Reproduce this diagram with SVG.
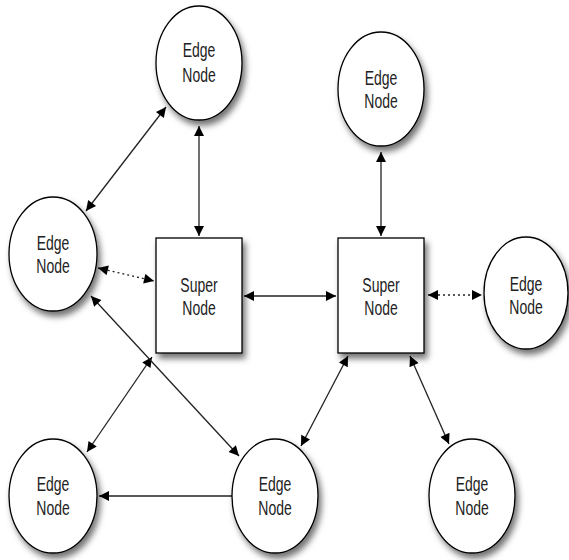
<svg xmlns="http://www.w3.org/2000/svg" width="569" height="560" viewBox="0 0 569 560">
<defs>
<filter id="sh" x="-30%" y="-30%" width="170%" height="170%">
<feDropShadow dx="3" dy="5" stdDeviation="3" flood-color="#000" flood-opacity="0.55"/>
</filter>
<marker id="arr" viewBox="0 0 10 10" refX="10" refY="5" markerWidth="12" markerHeight="10" markerUnits="userSpaceOnUse" orient="auto-start-reverse">
<path d="M0,0 L10,5 L0,10 z" fill="#000"/>
</marker>
</defs>
<style>
.node{fill:#fff;stroke:#000;stroke-width:1.3;filter:url(#sh)}
.lbl{font-family:"Liberation Sans",Arial,sans-serif;font-size:14px;fill:#222;text-anchor:middle}
.c{stroke:#222;stroke-width:1.3;fill:none}
.both{marker-start:url(#arr);marker-end:url(#arr)}
.one{marker-end:url(#arr)}
.dot{stroke-dasharray:2,3}
</style>
<g id="connectors">
<line class="c both" x1="199" y1="126" x2="199" y2="236"/>
<line class="c both" x1="166" y1="107" x2="86" y2="211"/>
<line class="c both dot" x1="98" y1="268" x2="154" y2="281"/>
<line class="c both" x1="152" y1="357" x2="87" y2="452"/>
<line class="c both" x1="91" y1="296" x2="239" y2="456"/>
<line class="c one" x1="232" y1="496" x2="99" y2="496"/>
<line class="c both" x1="244" y1="296" x2="336" y2="296"/>
<line class="c both" x1="381" y1="152" x2="381" y2="236"/>
<line class="c both dot" x1="428" y1="295" x2="482" y2="295"/>
<line class="c both" x1="348" y1="356" x2="301" y2="446"/>
<line class="c both" x1="410" y1="356" x2="449" y2="444"/>
</g>
<g id="edge-top-left">
<ellipse class="node" cx="199" cy="63" rx="43" ry="57"/>
<text class="lbl" transform="translate(199,57) scale(1,1.4)">Edge</text>
<text class="lbl" transform="translate(199,82) scale(1,1.4)">Node</text>
</g>
<g id="edge-top-right">
<ellipse class="node" cx="381" cy="89" rx="43" ry="57"/>
<text class="lbl" transform="translate(381,84.5) scale(1,1.4)">Edge</text>
<text class="lbl" transform="translate(381,108) scale(1,1.4)">Node</text>
</g>
<g id="edge-left">
<ellipse class="node" cx="53" cy="254" rx="44" ry="57"/>
<text class="lbl" transform="translate(53,249.5) scale(1,1.4)">Edge</text>
<text class="lbl" transform="translate(53,273) scale(1,1.4)">Node</text>
</g>
<g id="super-left">
<rect class="node" x="156" y="238" width="86" height="115"/>
<text class="lbl" transform="translate(199,291.5) scale(1,1.4)">Super</text>
<text class="lbl" transform="translate(199,315) scale(1,1.4)">Node</text>
</g>
<g id="super-right">
<rect class="node" x="338" y="238" width="86" height="115"/>
<text class="lbl" transform="translate(381,291.5) scale(1,1.4)">Super</text>
<text class="lbl" transform="translate(381,315) scale(1,1.4)">Node</text>
</g>
<g id="edge-right">
<ellipse class="node" cx="526" cy="293" rx="42" ry="56"/>
<text class="lbl" transform="translate(526,291) scale(1,1.4)">Edge</text>
<text class="lbl" transform="translate(526,314) scale(1,1.4)">Node</text>
</g>
<g id="edge-bottom-left">
<ellipse class="node" cx="53" cy="496" rx="44" ry="57"/>
<text class="lbl" transform="translate(53,491) scale(1,1.4)">Edge</text>
<text class="lbl" transform="translate(53,515) scale(1,1.4)">Node</text>
</g>
<g id="edge-bottom-mid">
<ellipse class="node" cx="275" cy="496" rx="43" ry="57"/>
<text class="lbl" transform="translate(275,491) scale(1,1.4)">Edge</text>
<text class="lbl" transform="translate(275,515) scale(1,1.4)">Node</text>
</g>
<g id="edge-bottom-right">
<ellipse class="node" cx="472" cy="496" rx="43" ry="57"/>
<text class="lbl" transform="translate(472,491) scale(1,1.4)">Edge</text>
<text class="lbl" transform="translate(472,515) scale(1,1.4)">Node</text>
</g>
</svg>
